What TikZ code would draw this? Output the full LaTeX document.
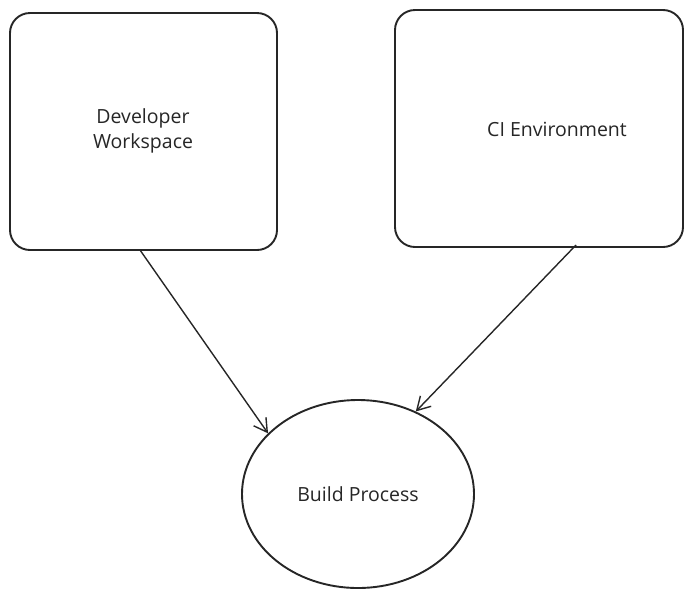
\documentclass[tikz,border=0pt]{standalone}
\usepackage{fontspec}
\setmainfont{Open Sans}
\usetikzlibrary{arrows.meta,shapes.geometric,calc}
\begin{document}
\begin{tikzpicture}[x=1pt,y=-1pt,
  box/.style={draw=black!85,line width=1.9pt,rounded corners=20pt,fill=white},
  lbl/.style={font=\fontsize{19.5}{25}\selectfont,align=center,text=black!85},
  conn/.style={draw=black!85,line width=1.4pt,-{Straight Barb[length=13pt,width=15pt,line width=1.4pt]}}]
\useasboundingbox (0,0) rectangle (692,598);
\path[box] (10,13) rectangle (277,250);
\coordinate (devS) at (140,250);
\node[lbl] (dev) at (143,131) {Developer\\Workspace};
\path[box] (395,10) rectangle (683,247);
\coordinate (ciS) at (576,245);
\node[lbl] (ci) at (557,129) {CI Environment};
\node[draw=black!85,line width=1.9pt,ellipse,minimum width=232pt,minimum height=188pt,inner sep=0pt,lbl] (bp) at (358,494) {Build Process};
\draw[conn] (devS) -- (bp.146);
\draw[conn] (ciS) -- (bp.55);
\end{tikzpicture}
\end{document}
